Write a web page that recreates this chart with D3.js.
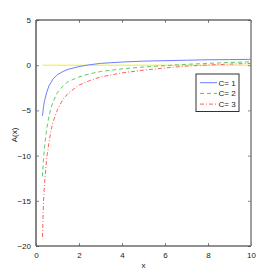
<!DOCTYPE html>
<html>
<head>
<meta charset="utf-8">
<script src="https://cdn.jsdelivr.net/npm/d3@7"></script>
<style>
  body { margin: 0; background: #fff; }
  svg text { font-family: "Liberation Sans", Arial, sans-serif; font-size: 8px; fill: #222; }
</style>
</head>
<body>
<div id="divChart"></div>
<script>
// values
var xValues = [0.3, 0.35, 0.4, 0.5, 0.6, 0.7, 0.8, 1, 1.25, 1.5, 2, 2.5, 3, 4, 5, 6, 7, 8, 9, 10];
var c1 = [-5.6, -4.6, -3.9, -3.0, -2.3, -1.9, -1.5, -1.05, -0.7, -0.45, -0.15, 0.05, 0.2, 0.35, 0.45, 0.5, 0.55, 0.6, 0.62, 0.65];
var c2 = [-12.3, -10.4, -9.0, -7.0, -5.7, -4.7, -4.0, -3.0, -2.3, -1.8, -1.3, -0.95, -0.7, -0.4, -0.2, -0.05, 0.1, 0.2, 0.3, 0.38];
var c3 = [-19.0, -15.0, -13.0, -10.2, -8.6, -7.2, -6.2, -4.9, -3.8, -3.1, -2.2, -1.7, -1.3, -0.85, -0.55, -0.3, -0.1, 0.02, 0.12, 0.2];
var zeroLine = [0, 0];
var zeroX = [0.3, 10];
var legendLabels = ["C= 1", "C= 2", "C= 3"];
var xTicks = [0, 2, 4, 6, 8, 10];
var yTicks = [-20, -15, -10, -5, 0, 5];

function init()
{
    var width = 277, height = 277;
    var left = 36, right = 251, top = 20, bottom = 246;

    var svg = d3.select("#divChart").append("svg")
        .attr("width", width)
        .attr("height", height);

    var scaleX = d3.scaleLinear().domain([0, 10]).range([left, right]);
    var scaleY = d3.scaleLinear().domain([-20, 5]).range([bottom, top]);

    var series = [
        {vals: c1, color: "#6f7dff", dash: null},
        {vals: c2, color: "#5fc95f", dash: "4,3"},
        {vals: c3, color: "#ff6060", dash: "4,2,1,2"}
    ];

    var line = d3.line()
        .x(function(d){ return scaleX(d[0]); })
        .y(function(d){ return scaleY(d[1]); });

    // yellow zero line
    svg.append("path")
        .attr("d", line(zeroX.map(function(x, i){ return [x, zeroLine[i]]; })))
        .style("fill", "none")
        .style("stroke", "#eeee33")
        .style("stroke-width", 1);

    series.forEach(function(s){
        svg.append("path")
            .attr("d", line(xValues.map(function(x, i){ return [x, s.vals[i]]; })))
            .style("fill", "none")
            .style("stroke", s.color)
            .style("stroke-width", 1)
            .style("stroke-dasharray", s.dash);
    });

    // axes with inward ticks
    var xAxisB = d3.axisBottom(scaleX).tickValues(xTicks).tickSizeInner(-3).tickSizeOuter(0).tickPadding(6);
    var xAxisT = d3.axisTop(scaleX).tickValues(xTicks).tickSizeInner(-3).tickSizeOuter(0).tickFormat("");
    var yAxisL = d3.axisLeft(scaleY).tickValues(yTicks).tickSizeInner(-3).tickSizeOuter(0).tickPadding(5)
        .tickFormat(function(d){ return d < 0 ? "\u2212" + Math.abs(d) : d; });
    var yAxisR = d3.axisRight(scaleY).tickValues(yTicks).tickSizeInner(-3).tickSizeOuter(0).tickFormat("");

    var gB = svg.append("g").attr("transform", "translate(0," + bottom + ")").call(xAxisB);
    var gT = svg.append("g").attr("transform", "translate(0," + top + ")").call(xAxisT);
    var gL = svg.append("g").attr("transform", "translate(" + left + ",0)").call(yAxisL);
    var gR = svg.append("g").attr("transform", "translate(" + right + ",0)").call(yAxisR);

    [gB, gT, gL, gR].forEach(function(g){
        g.select(".domain").remove();
        g.selectAll("line").style("stroke", "#888").style("stroke-width", 1);
        g.selectAll("text").style("font-family", "Liberation Sans, Arial, sans-serif").style("font-size", "8px").style("fill", "#222");
    });

    // box
    svg.append("line").attr("x1", left).attr("x2", right).attr("y1", top).attr("y2", top)
        .style("stroke", "#222").style("stroke-width", 1);
    svg.append("line").attr("x1", left).attr("x2", right).attr("y1", bottom).attr("y2", bottom)
        .style("stroke", "#222").style("stroke-width", 1);
    svg.append("line").attr("x1", left).attr("x2", left).attr("y1", top).attr("y2", bottom)
        .style("stroke", "#666").style("stroke-width", 1.6);
    svg.append("line").attr("x1", right).attr("x2", right).attr("y1", top).attr("y2", bottom)
        .style("stroke", "#888").style("stroke-width", 1.6);

    // axis labels
    svg.append("text").attr("x", (left + right) / 2).attr("y", 268)
        .attr("text-anchor", "middle").text("x");
    svg.append("text").attr("transform", "translate(17," + 135 + ") rotate(-90)")
        .attr("text-anchor", "middle").text("A(x)");

    // legend
    var lg = svg.append("g").attr("transform", "translate(196,74)");
    lg.append("rect").attr("width", 43).attr("height", 37.5)
        .style("fill", "#fff").style("stroke", "#333").style("stroke-width", 1);
    series.forEach(function(s, i){
        var yy = 8.7 + i * 10.7;
        lg.append("line").attr("x1", 4).attr("x2", 21).attr("y1", yy).attr("y2", yy)
            .style("stroke", s.color).style("stroke-width", 1).style("stroke-dasharray", s.dash);
        lg.append("text").attr("x", 22.5).attr("y", yy + 3).text(legendLabels[i]);
    });
}

window.onload = init;
</script>
</body>
</html>
